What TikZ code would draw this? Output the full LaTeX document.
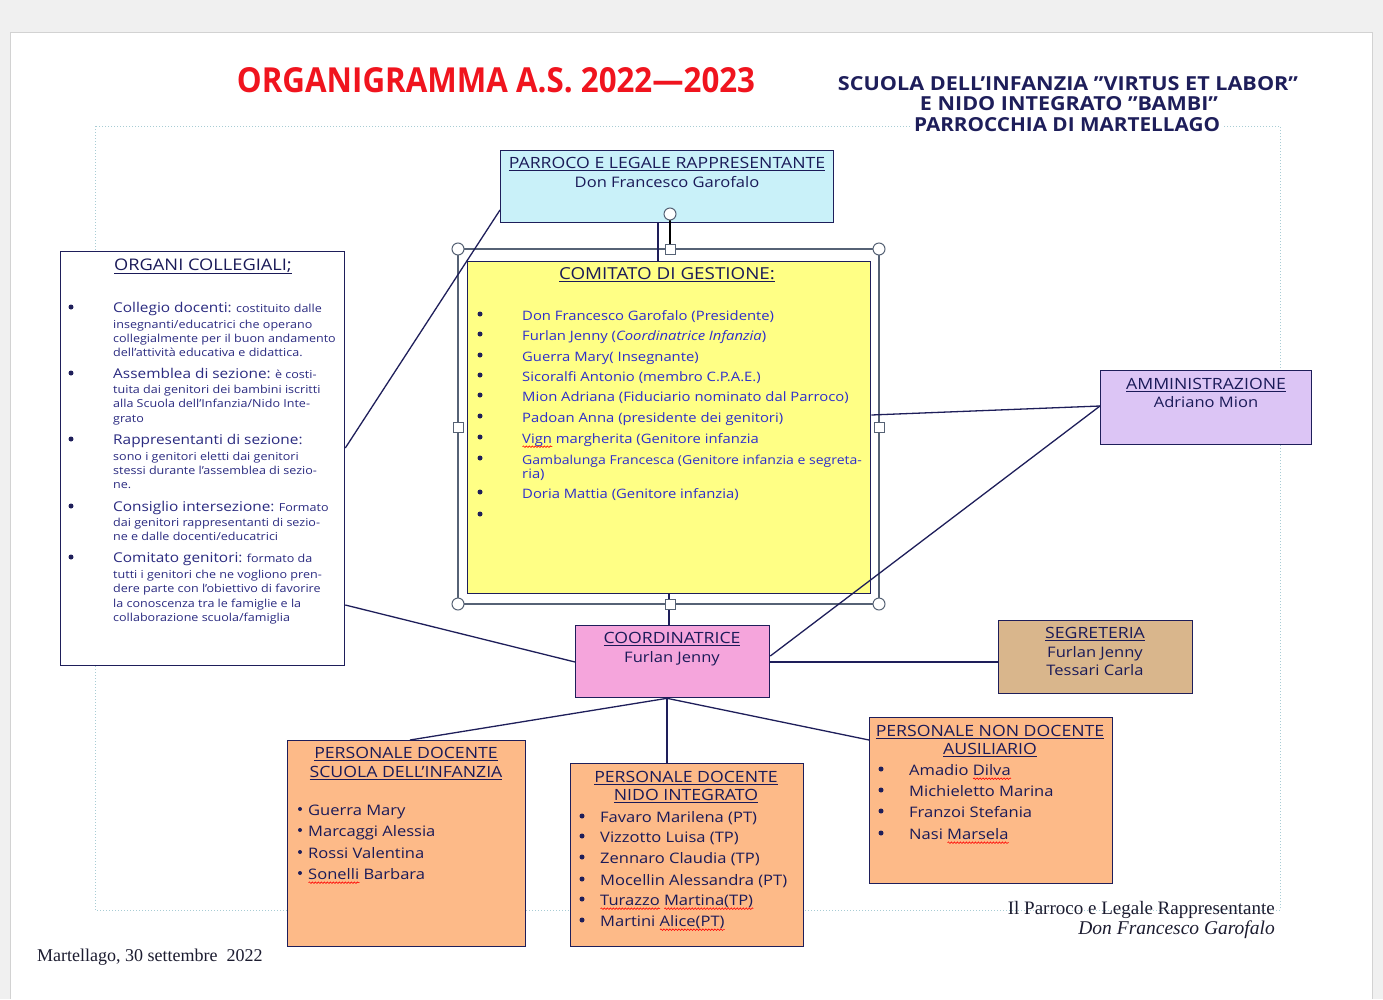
\documentclass[tikz,border=0pt]{standalone}
\usepackage{fontspec}
\setmainfont[FakeStretch=1.14]{Open Sans}
\newfontfamily\timesf{Liberation Serif}
\usepackage{graphicx}
\usetikzlibrary{calc,decorations.pathmorphing}
\newlength\rwlen
\newcommand\redwave[1]{\setbox0\hbox{#1}\setlength\rwlen{\wd0}\rlap{\tikz[baseline=0pt]\draw[red, line width=0.6pt, decorate, decoration={snake, segment length=3pt, amplitude=0.8pt}] (0pt,-3.5pt) -- (\rwlen,-3.5pt);}#1}
\newcommand\fsz[1]{\fontsize{#1}{#1}\selectfont}
\definecolor{navy}{HTML}{1E1E5A}
\definecolor{boxtext}{HTML}{1A1A58}
\definecolor{cgblue}{HTML}{2E2ECC}
\definecolor{orgblue}{HTML}{2A2A80}
\definecolor{titlered}{HTML}{F0141E}
\definecolor{cyanbox}{HTML}{C9F1F9}
\definecolor{yellowbox}{HTML}{FFFF85}
\definecolor{lavbox}{HTML}{DCC5F5}
\definecolor{pinkbox}{HTML}{F5A5DC}
\definecolor{tanbox}{HTML}{D9B68C}
\definecolor{peachbox}{HTML}{FDBA88}
\definecolor{handlec}{HTML}{566275}
\definecolor{marginc}{HTML}{A8CCD4}
\definecolor{sigc}{HTML}{1C1C30}
\tikzset{
  box/.style={draw=navy, line width=1.3pt, inner sep=0pt, anchor=north west},
  hd/.style={anchor=mid, inner sep=0pt, yshift=-3.5pt, text=boxtext, font=\fsz{15.5}},
  nm/.style={anchor=mid, inner sep=0pt, yshift=-3.5pt, text=boxtext, font=\fsz{14.5}},
  li/.style={anchor=mid west, inner sep=0pt, yshift=-3.5pt, text=boxtext, font=\fsz{14.5}},
  cg/.style={anchor=mid west, inner sep=0pt, yshift=-3.5pt, text=cgblue, font=\fsz{13}},
  ol/.style={anchor=mid west, inner sep=0pt, yshift=-3pt, text=orgblue, font=\fsz{11}},
  bul/.style={circle, fill=navy, inner sep=0pt, minimum size=5pt},
  sbul/.style={circle, fill=navy, inner sep=0pt, minimum size=4pt},
  sig/.style={inner sep=0pt, yshift=-3.5pt, text=sigc},
  conn/.style={draw=navy, line width=1.3pt},
  hcirc/.style={draw=handlec, fill=white, line width=1pt},
}
\begin{document}
\begin{tikzpicture}[x=1pt,y=-1pt]
\useasboundingbox (0,0) rectangle (1383,999);
% page
\fill[gray!12] (0,0) rectangle (1383,999);
\fill[white] (10,32) rectangle (1372,999);
\draw[gray!35, line width=0.8pt] (10,999) -- (10,32) -- (1372,32) -- (1372,999);
\draw[marginc, dotted, line width=1pt] (95,126) rectangle (1280,910);

% title and header
\node[text=titlered, inner sep=0pt] (title) at (496,80) {\resizebox{518pt}{25pt}{\bfseries ORGANIGRAMMA A.S. 2022—2023}};
\node[text=navy, inner sep=0pt] (h1) at (1068,84) {\resizebox{460pt}{14pt}{\bfseries SCUOLA DELL'INFANZIA "VIRTUS ET LABOR"}};
\node[text=navy, inner sep=0pt] (h2) at (1069,104) {\resizebox{298pt}{14pt}{\bfseries E NIDO INTEGRATO "BAMBI"}};
\node[text=navy, inner sep=0pt, fill=white, inner xsep=3pt] (h3) at (1067,125) {\resizebox{306pt}{14pt}{\bfseries PARROCCHIA DI MARTELLAGO}};

% selection frame of the comitato
\draw[handlec, line width=1.1pt] (458,249) rectangle (879,604);

% boxes
\node[box, fill=cyanbox, minimum width=333pt, minimum height=72pt] (parroco) at (500,150) {};
\node[box, fill=yellowbox, minimum width=403pt, minimum height=332pt] (comitato) at (467,261) {};
\node[box, fill=white, minimum width=284pt, minimum height=414pt] (organi) at (60,251) {};
\node[box, fill=lavbox, minimum width=211pt, minimum height=74pt] (amm) at (1100,370) {};
\node[box, fill=pinkbox, minimum width=194pt, minimum height=72pt] (coord) at (575,625) {};
\node[box, fill=tanbox, minimum width=194pt, minimum height=73pt] (segr) at (998,620) {};
\node[box, fill=peachbox, minimum width=238pt, minimum height=206pt] (infanzia) at (287,740) {};
\node[box, fill=peachbox, minimum width=233pt, minimum height=183pt] (nido) at (570,763) {};
\node[box, fill=peachbox, minimum width=243pt, minimum height=166pt] (nondoc) at (869,717) {};

% connectors
\draw[conn] (organi.east |- 0,448) -- (parroco.west |- 0,210);
\draw[conn] (organi.east |- 0,605) -- (coord.west |- 0,662);
\draw[conn] (parroco.south -| 658,0) -- (comitato.north -| 658,0);
\draw[conn] (comitato.south -| 669,0) -- (coord.north -| 669,0);
\draw[conn] (comitato.east |- 0,415) -- (amm.west |- 0,406);
\draw[conn] (coord.east |- 0,656) -- (amm.west |- 0,406);
\draw[conn] (coord.east |- 0,662) -- (segr.west |- 0,662);
\draw[conn] (coord.south -| 667,0) -- (infanzia.north -| 410,0);
\draw[conn] (coord.south -| 667,0) -- (nido.north -| 667,0);
\draw[conn] (coord.south -| 667,0) -- (nondoc.west |- 0,740);

% rotation handle and frame handles
\draw[black, line width=1.6pt] (670,220) -- (670,244);
\draw[hcirc] (670,214) circle (6pt);
\foreach \cx/\cy in {458/249, 879/249, 458/604, 879/604} {\draw[hcirc] (\cx,\cy) circle (6pt);}
\foreach \cx/\cy in {670/249, 670/604, 458/427, 879/427} {\draw[hcirc] (\cx-5,\cy-5) rectangle (\cx+5,\cy+5);}

% parroco text
\node[hd] (parrocoT) at (667,162) {\underline{PARROCO E LEGALE RAPPRESENTANTE}};
\node[nm] (parrocoN) at (667,181) {Don Francesco Garofalo};

% comitato text
\node[hd, font=\fsz{16.5}] (comT) at (667,273) {\underline{COMITATO DI GESTIONE:}};
\foreach \yy [count=\i] in {314,334,355,375,395,416,437,458,492,514} {\node[bul] (cgb\i) at (480,\yy) {};}
\node[cg] (cg1) at (522,314) {Don Francesco Garofalo (Presidente)};
\node[cg] (cg2) at (522,334) {Furlan Jenny (\textit{Coordinatrice Infanzia})};
\node[cg] (cg3) at (522,355) {Guerra Mary( Insegnante)};
\node[cg] (cg4) at (522,375) {Sicoralfi Antonio (membro C.P.A.E.)};
\node[cg] (cg5) at (522,395) {Mion Adriana (Fiduciario nominato dal Parroco)};
\node[cg] (cg6) at (522,416) {Padoan Anna (presidente dei genitori)};
\node[cg] (cg7) at (522,437) {\redwave{Vign} margherita (Genitore infanzia};
\node[cg, font=\fsz{12.3}] (cg8) at (522,458) {Gambalunga Francesca (Genitore infanzia e segreta-};
\node[cg] (cg8b) at (522,472) {ria)};
\node[cg] (cg9) at (522,492) {Doria Mattia (Genitore infanzia)};

% organi collegiali text
\node[hd, font=\fsz{16}] (orgT) at (203,264) {\underline{ORGANI COLLEGIALI;}};
\foreach \yy [count=\i] in {307,373,439,506,557} {\node[bul] (ob\i) at (71,\yy) {};}
\node[ol] (o11) at (113,307) {{\fsz{13.5}Collegio docenti:} costituito dalle};
\node[ol] (o12) at (113,323) {insegnanti/educatrici che operano};
\node[ol] (o13) at (113,337) {collegialmente per il buon andamento};
\node[ol] (o14) at (113,351) {dell'attività educativa e didattica.};
\node[ol] (o21) at (113,373) {{\fsz{13.5}Assemblea di sezione:} è costi-};
\node[ol] (o22) at (113,388) {tuita dai genitori dei bambini iscritti};
\node[ol] (o23) at (113,402) {alla Scuola dell'Infanzia/Nido Inte-};
\node[ol] (o24) at (113,417) {grato};
\node[ol] (o31) at (113,439) {{\fsz{13.5}Rappresentanti di sezione:}};
\node[ol] (o32) at (113,455) {sono i genitori eletti dai genitori};
\node[ol] (o33) at (113,469) {stessi durante l'assemblea di sezio-};
\node[ol] (o34) at (113,483) {ne.};
\node[ol] (o41) at (113,506) {{\fsz{13.5}Consiglio intersezione:} Formato};
\node[ol] (o42) at (113,521) {dai genitori rappresentanti di sezio-};
\node[ol] (o43) at (113,535) {ne e dalle docenti/educatrici};
\node[ol] (o51) at (113,557) {{\fsz{13.5}Comitato genitori:} formato da};
\node[ol] (o52) at (113,573) {tutti i genitori che ne vogliono pren-};
\node[ol] (o53) at (113,587) {dere parte con l'obiettivo di favorire};
\node[ol] (o54) at (113,602) {la conoscenza tra le famiglie e la};
\node[ol] (o55) at (113,616) {collaborazione scuola/famiglia};

% amministrazione
\node[hd] (ammT) at (1206,383) {\underline{AMMINISTRAZIONE}};
\node[nm] (ammN) at (1206,401) {Adriano Mion};

% coordinatrice
\node[hd] (coordT) at (672,637) {\underline{COORDINATRICE}};
\node[nm] (coordN) at (672,656) {Furlan Jenny};

% segreteria
\node[hd] (segrT) at (1095,632) {\underline{SEGRETERIA}};
\node[nm] (segrN1) at (1095,651) {Furlan Jenny};
\node[nm] (segrN2) at (1095,669) {Tessari Carla};

% personale docente scuola dell'infanzia
\node[hd] (infT1) at (406,752) {\underline{PERSONALE DOCENTE}};
\node[hd] (infT2) at (406,771) {\underline{SCUOLA DELL'INFANZIA}};
\foreach \yy [count=\i] in {809,830,852,873} {\node[sbul] (ib\i) at (300,\yy) {};}
\node[li] (inf1) at (308,809) {Guerra Mary};
\node[li] (inf2) at (308,830) {Marcaggi Alessia};
\node[li] (inf3) at (308,852) {Rossi Valentina};
\node[li] (inf4) at (308,873) {\redwave{Sonelli} Barbara};

% personale docente nido integrato
\node[hd] (nidoT1) at (686,776) {\underline{PERSONALE DOCENTE}};
\node[hd] (nidoT2) at (686,794) {\underline{NIDO INTEGRATO}};
\foreach \yy [count=\i] in {816,836,857,879,899,920} {\node[bul] (nb\i) at (582,\yy) {};}
\node[li] (nido1) at (600,816) {Favaro Marilena (PT)};
\node[li] (nido2) at (600,836) {Vizzotto Luisa (TP)};
\node[li] (nido3) at (600,857) {Zennaro Claudia (TP)};
\node[li] (nido4) at (600,879) {Mocellin Alessandra (PT)};
\node[li] (nido5) at (600,899) {\redwave{Turazzo} \redwave{Martina(TP)}};
\node[li] (nido6) at (600,920) {Martini \redwave{Alice(PT)}};

% personale non docente
\node[hd] (ndT1) at (990,730) {\underline{PERSONALE NON DOCENTE}};
\node[hd] (ndT2) at (990,748) {\underline{AUSILIARIO}};
\foreach \yy [count=\i] in {769,790,811,833} {\node[bul] (ndb\i) at (881,\yy) {};}
\node[li] (nd1) at (909,769) {Amadio \redwave{Dilva}};
\node[li] (nd2) at (909,790) {Michieletto Marina};
\node[li] (nd3) at (909,811) {Franzoi Stefania};
\node[li] (nd4) at (909,833) {Nasi \redwave{Marsela}};

% signatures
\node[sig, anchor=mid east, font=\timesf\fsz{19}] (sig1) at (1275,908) {Il Parroco e Legale Rappresentante};
\node[sig, anchor=mid east, font=\timesf\itshape\fsz{19.5}] (sig2) at (1275,928) {Don Francesco Garofalo};
\node[sig, anchor=mid west, font=\timesf\fsz{18}] (date) at (37,955) {Martellago, 30 settembre~ 2022};
\end{tikzpicture}
\end{document}
